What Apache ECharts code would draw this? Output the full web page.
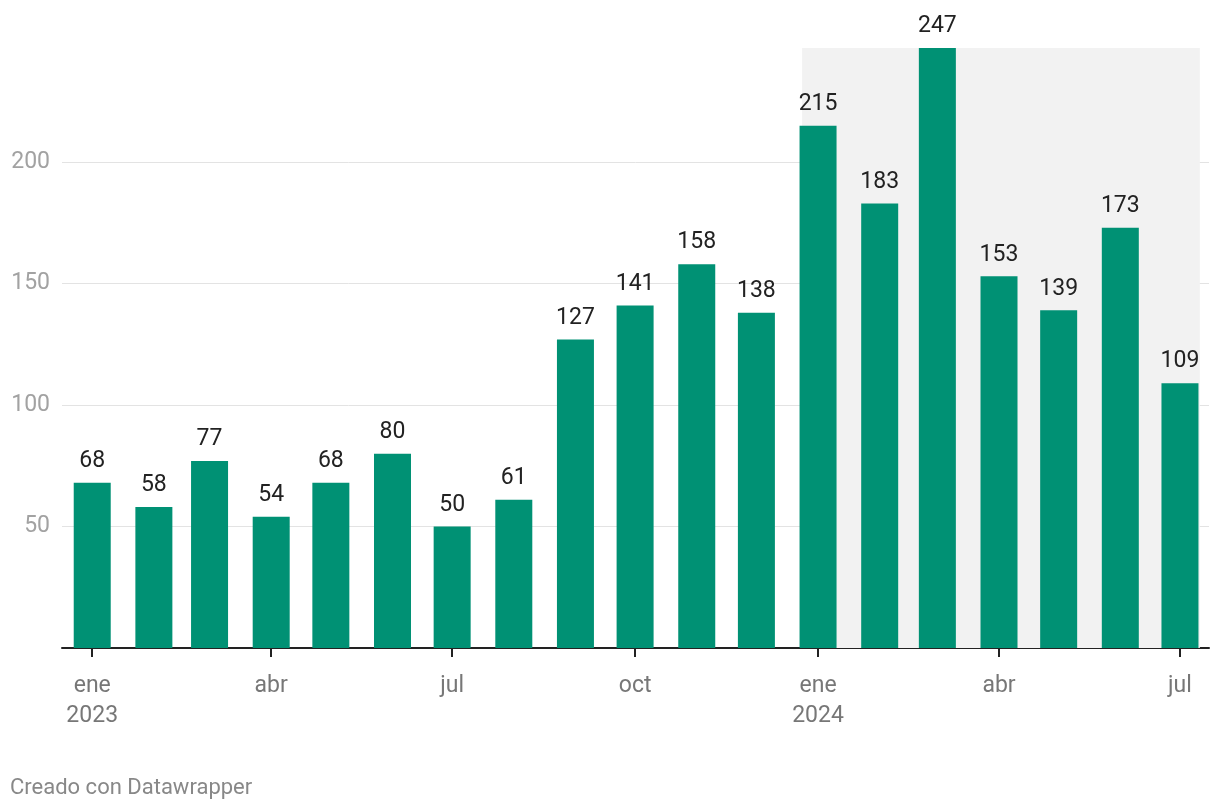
<!DOCTYPE html>
<html>
<head>
<meta charset="utf-8">
<script src="https://cdn.jsdelivr.net/npm/echarts@6/dist/echarts.min.js"></script>
<style>
html,body{margin:0;padding:0;background:#fff;}
#chart{width:1220px;height:810px;}
</style>
</head>
<body>
<div id="chart"></div>
<script>
// Data
const months = ['2023-01','2023-02','2023-03','2023-04','2023-05','2023-06','2023-07','2023-08','2023-09','2023-10','2023-11','2023-12',
                '2024-01','2024-02','2024-03','2024-04','2024-05','2024-06','2024-07'];
const values = [68,58,77,54,68,80,50,61,127,141,158,138,215,183,247,153,139,173,109];
const tickDates = ['2023-01','2023-04','2023-07','2023-10','2024-01','2024-04','2024-07'];
const tickLabels = ['ene\n2023','abr','jul','oct','ene\n2024','abr','jul'];
const yTicks = [50,100,150,200];
const highlightStart = '2023-12-24';
const highlightEnd = '2024-07-11';
const footer = 'Creado con Datawrapper';

const DAY = 86400000;
function ts(s){ const p = s.split('-').map(Number); return Date.UTC(p[0], p[1]-1, p[2]||1); }
const tickTs = tickDates.map(ts);
const xMin = ts(months[0]) - 15.2*DAY;
const xMax = ts(months[months.length-1]) + 14.6*DAY;

const chart = echarts.init(document.getElementById('chart'));
const FONT = 'Roboto';
chart.setOption({
  animation:false,
  textStyle:{fontFamily:FONT},
  grid:{left:62,right:11,top:48,bottom:162},
  xAxis:{
    type:'value', min:xMin, max:xMax,
    splitLine:{show:false},
    axisLine:{show:true,lineStyle:{color:'#222',width:2}},
    axisTick:{show:true,customValues:tickTs,length:9,lineStyle:{color:'#222',width:2}},
    axisLabel:{customValues:tickTs,color:'#777',fontSize:23,lineHeight:30,margin:23,fontFamily:FONT,
      formatter:function(v){ const i = tickTs.indexOf(v); return i>=0 ? tickLabels[i] : ''; }}
  },
  yAxis:{
    type:'value', min:0, max:247, interval:50,
    axisLine:{show:false}, axisTick:{show:false},
    splitLine:{show:true,lineStyle:{color:['transparent','#e3e3e3','#e3e3e3','#e3e3e3','#e3e3e3','transparent'],width:1}},
    axisLabel:{color:'#a2a2a2',fontSize:23,margin:12,fontFamily:FONT,
      formatter:function(v){ return yTicks.indexOf(v)>=0 ? String(v) : ''; }}
  },
  series:[
    {
      type:'line', data:[], z:0, silent:true,
      markArea:{silent:true,itemStyle:{color:'#f2f2f2'},
        data:[[{xAxis:ts(highlightStart),yAxis:0},{xAxis:ts(highlightEnd),yAxis:247}]]}
    },
    {
      type:'bar', z:3, barWidth:37,
      data: months.map((m,i)=>[ts(m),values[i]]),
      itemStyle:{color:'#009174'},
      label:{show:true,position:'top',distance:10,color:'#222',fontSize:23,fontFamily:FONT,
        formatter:function(p){return p.value[1];}}
    }
  ],
  graphic:[{type:'text',left:10,top:777,style:{text:footer,fill:'#888',fontSize:22,fontFamily:FONT}}]
});
</script>
</body>
</html>
